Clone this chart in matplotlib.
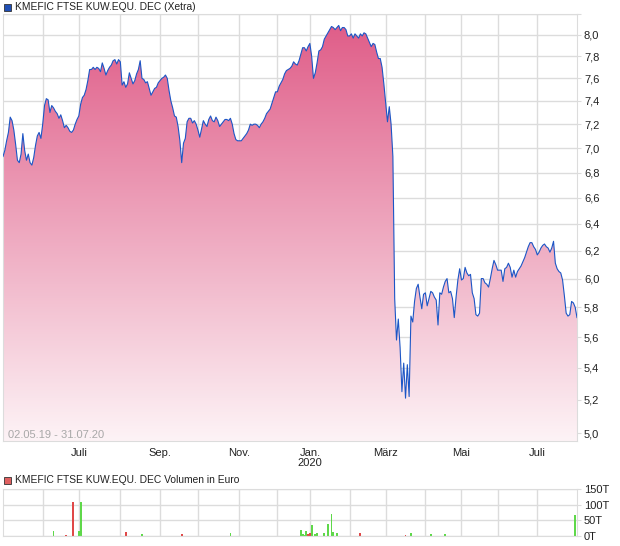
import numpy as np
import pandas as pd
import matplotlib
matplotlib.use('Agg')
import matplotlib.pyplot as plt
from matplotlib.ticker import FixedLocator, NullLocator
from matplotlib.colors import LinearSegmentedColormap
from matplotlib.patches import Rectangle

plt.rcParams['font.family'] = ['Liberation Sans', 'DejaVu Sans']

title = 'KMEFIC FTSE KUW.EQU. DEC (Xetra)'
vol_title = 'KMEFIC FTSE KUW.EQU. DEC Volumen in Euro'
range_text = '02.05.19 - 31.07.20'
start, end = '2019-05-02', '2020-07-31'
holidays = ['2019-12-24', '2019-12-25', '2019-12-26', '2019-12-31',
            '2020-01-01', '2020-04-10', '2020-04-13', '2020-05-01']

# closing prices, one per Xetra trading day
prices = [
    6.93, 6.98, 7.06, 7.13, 7.26, 7.23, 7.15, 7.03, 6.90, 6.88,
    6.95, 7.12, 6.98, 6.90, 6.95, 6.88, 6.86, 6.92, 7.02, 7.10,
    7.13, 7.08, 7.20, 7.36, 7.42, 7.41, 7.30, 7.36, 7.34, 7.31,
    7.29, 7.25, 7.28, 7.23, 7.17, 7.19, 7.17, 7.14, 7.13, 7.15,
    7.20, 7.24, 7.27, 7.37, 7.43, 7.45, 7.50, 7.58, 7.68, 7.68,
    7.70, 7.68, 7.70, 7.69, 7.66, 7.74, 7.69, 7.63, 7.67, 7.70,
    7.72, 7.76, 7.77, 7.73, 7.77, 7.75, 7.54, 7.57, 7.52, 7.55,
    7.65, 7.60, 7.55, 7.58, 7.64, 7.68, 7.76, 7.60, 7.59, 7.56,
    7.57, 7.51, 7.45, 7.48, 7.51, 7.52, 7.56, 7.58, 7.60, 7.61,
    7.63, 7.60, 7.49, 7.40, 7.34, 7.27, 7.26, 7.18, 7.06, 6.88,
    7.04, 7.08, 7.22, 7.25, 7.25, 7.21, 7.23, 7.20, 7.15, 7.09,
    7.16, 7.23, 7.20, 7.18, 7.24, 7.27, 7.23, 7.22, 7.26, 7.23,
    7.18, 7.20, 7.22, 7.24, 7.24, 7.23, 7.25, 7.20, 7.12, 7.07,
    7.06, 7.06, 7.06, 7.08, 7.10, 7.12, 7.15, 7.20, 7.19, 7.20,
    7.20, 7.19, 7.17, 7.20, 7.22, 7.25, 7.29, 7.31, 7.33, 7.38,
    7.43, 7.48, 7.48, 7.53, 7.56, 7.59, 7.64, 7.67, 7.68, 7.69,
    7.71, 7.75, 7.73, 7.72, 7.76, 7.82, 7.88, 7.88, 7.85, 7.89,
    7.92, 7.80, 7.60, 7.65, 7.74, 7.85, 7.86, 7.89, 7.96, 7.99,
    8.02, 8.05, 8.08, 8.07, 8.05, 8.07, 8.09, 8.04, 8.07, 8.07,
    8.05, 7.99, 7.99, 8.01, 7.97, 8.01, 7.99, 7.97, 8.01, 7.99,
    8.02, 8.01, 7.97, 7.93, 7.89, 7.92, 7.91, 7.84, 7.78, 7.78,
    7.70, 7.55, 7.38, 7.22, 7.35, 7.20, 6.93, 5.86, 5.58, 5.72,
    5.53, 5.25, 5.43, 5.21, 5.42, 5.22, 5.74, 5.70, 5.84, 5.93,
    5.96, 5.87, 5.79, 5.89, 5.90, 5.81, 5.86, 5.91, 5.90, 5.87,
    5.85, 5.68, 5.90, 5.89, 5.94, 5.98, 6.00, 5.90, 5.91, 5.86,
    5.73, 5.87, 5.99, 6.07, 5.99, 6.00, 6.08, 6.04, 6.02, 6.03,
    5.90, 5.86, 5.75, 5.74, 5.76, 6.00, 6.00, 5.97, 5.96, 5.94,
    6.00, 6.07, 6.13, 6.10, 6.06, 6.06, 6.06, 5.98, 6.07, 6.08,
    6.11, 6.08, 6.01, 6.06, 6.01, 6.05, 6.07, 6.09, 6.12, 6.15,
    6.19, 6.23, 6.26, 6.26, 6.23, 6.21, 6.17, 6.19, 6.22, 6.24,
    6.25, 6.23, 6.22, 6.19, 6.22, 6.27, 6.11, 6.07, 6.05, 6.04,
    5.99, 5.88, 5.76, 5.74, 5.75, 5.84, 5.83, 5.80, 5.73,
]

# volume in thousand euro, only days with turnover
vol_dates = [
    '2019-05-20', '2019-06-11', '2019-06-20', '2019-06-26', '2019-07-01',
    '2019-07-02', '2019-07-23', '2019-07-29', '2019-08-05', '2019-08-06',
    '2019-08-09', '2019-08-19', '2019-08-20', '2019-09-18', '2019-10-25',
    '2019-12-13', '2019-12-16', '2019-12-19', '2019-12-20', '2019-12-23',
    '2019-12-27', '2019-12-30', '2020-01-02', '2020-01-03', '2020-01-07',
    '2020-01-08', '2020-01-14', '2020-01-16', '2020-01-20', '2020-01-21',
    '2020-01-23', '2020-01-27', '2020-02-11', '2020-02-12', '2020-02-17',
    '2020-02-26', '2020-03-12', '2020-03-17', '2020-03-20', '2020-03-30',
    '2020-04-06', '2020-04-15', '2020-04-20', '2020-04-21', '2020-06-08',
    '2020-07-24', '2020-07-30', '2020-07-31',
]
vol_values = [
    1.5, 15, 4, 110, 17,
    110, 1.5, 1.5, 1.5, 12,
    1.5, 5, 1.5, 5, 8,
    1.5, 1.5, 20, 7, 3,
    17, 5, 10, 36, 5,
    8, 10, 39, 71, 14,
    8, 1.5, 11, 1.5, 1.5,
    1.5, 1.5, 4, 11, 1.5,
    5, 1.5, 7, 1.5, 1.5,
    1.5, 66, 1.5,
]
vol_up = [
    1, 1, 0, 0, 1,
    1, 1, 1, 0, 0,
    1, 1, 1, 0, 1,
    0, 0, 1, 1, 1,
    1, 0, 0, 1, 1,
    1, 1, 1, 1, 1,
    1, 1, 0, 1, 0,
    0, 1, 0, 1, 0,
    1, 0, 1, 1, 1,
    1, 1, 0,
]

y_ticks = [5.0, 5.2, 5.4, 5.6, 5.8, 6.0, 6.2, 6.4, 6.6, 6.8,
           7.0, 7.2, 7.4, 7.6, 7.8, 8.0, 8.2]
vol_ticks = [0, 50, 100, 150]
vol_tick_labels = ['0T', '50T', '100T', '150T']
month_labels = {'2019-07': 'Juli', '2019-09': 'Sep.', '2019-11': 'Nov.',
                '2020-01': 'Jan.\n2020', '2020-03': 'März', '2020-05': 'Mai',
                '2020-07': 'Juli'}

days = pd.bdate_range(start, end)
days = days[~days.isin(pd.to_datetime(holidays))]
x = np.arange(len(days))
y = np.array(prices)

periods = days.to_period('M')
month_starts = [i for i in range(1, len(days)) if periods[i] != periods[i - 1]]
label_pos = [i for i in month_starts if str(periods[i]) in month_labels]
label_txt = [month_labels[str(periods[i])] for i in label_pos]

W, H = 620, 546
fig = plt.figure(figsize=(W / 100, H / 100), dpi=100)
fig.patch.set_facecolor('white')

def frac(x0, y0, x1, y1):
    return [x0 / W, 1 - y1 / H, (x1 - x0) / W, (y1 - y0) / H]

grid_c = '#dcdcdc'
text_c = '#222222'

# ---- price chart
ax = fig.add_axes(frac(3, 14, 577, 441))
ax.set_yscale('log')
ymin, ymax = 4.953, 8.2
ax.set_xlim(0, len(days) - 1)
ax.set_ylim(ymin, ymax)

# vertical gradient: dark pink at the top, almost white at the bottom
cmap = LinearSegmentedColormap.from_list('g', ['#df5a86', '#fdf3f6'])
grad = np.linspace(0, 1, 256).reshape(-1, 1)
img = ax.imshow(grad, cmap=cmap, aspect='auto', extent=[0, 1, 0, 1],
                origin='upper', transform=ax.transAxes, zorder=1)
poly = ax.fill_between(x, y, ymin, color='none', lw=0)
clip = poly.get_paths()[0]
img.set_clip_path(clip, transform=ax.transData)
ax.plot(x, y, color='#1c56c6', lw=0.8, zorder=3)

ax.yaxis.set_major_locator(FixedLocator(y_ticks))
ax.yaxis.set_minor_locator(NullLocator())
ax.set_yticklabels([f'{t:.1f}'.replace('.', ',') if t < 8.1 else '' for t in y_ticks])
ax.yaxis.tick_right()
ax.set_xticks(month_starts, minor=True)
ax.set_xticks(label_pos)
ax.set_xticklabels(label_txt, linespacing=1.0)
ax.grid(True, which='both', color=grid_c, lw=1, zorder=0)
ax.set_axisbelow(True)
ax.tick_params(axis='y', length=3, color=grid_c, labelsize=8, labelcolor=text_c, pad=2)
ax.tick_params(axis='x', which='both', length=0, labelsize=8, labelcolor=text_c, pad=5)
for s in ax.spines.values():
    s.set_color(grid_c)

fig.text(8 / W, 1 - 435 / H, range_text, color='#a8a8a8', fontsize=8, va='center', zorder=5)

# legend boxes
fig.patches.append(Rectangle((4 / W, 1 - 11 / H), 7 / W, 7 / H, transform=fig.transFigure,
                             facecolor='#1f4fb5', edgecolor='#333333', lw=0.6))
fig.text(15 / W, 1 - 7 / H, title, fontsize=7.4, color=text_c, va='center')

# ---- volume chart
vx = [days.get_loc(pd.Timestamp(d)) for d in vol_dates]
vc = ['#5fd84a' if u else '#e04848' for u in vol_up]
ax2 = fig.add_axes(frac(3, 489, 577, 536))
ax2.bar(vx, vol_values, width=1.0, color=vc, lw=0, zorder=2)
ax2.set_xlim(0, len(days) - 1)
ax2.set_ylim(0, 150)
ax2.set_yticks(vol_ticks)
ax2.set_yticklabels(vol_tick_labels)
ax2.yaxis.tick_right()
ax2.set_xticks(month_starts)
ax2.set_xticklabels([])
ax2.grid(True, color=grid_c, lw=1, zorder=0)
ax2.set_axisbelow(True)
ax2.tick_params(axis='y', length=3, color=grid_c, labelsize=8, labelcolor=text_c, pad=2)
ax2.tick_params(axis='x', length=0)
for s in ax2.spines.values():
    s.set_color(grid_c)

fig.patches.append(Rectangle((4 / W, 1 - 484 / H), 7 / W, 7 / H, transform=fig.transFigure,
                             facecolor='#e06060', edgecolor='#333333', lw=0.6))
fig.text(15 / W, 1 - 480 / H, vol_title, fontsize=7.4, color=text_c, va='center')

fig.savefig('out.png', dpi=100, facecolor='white')
